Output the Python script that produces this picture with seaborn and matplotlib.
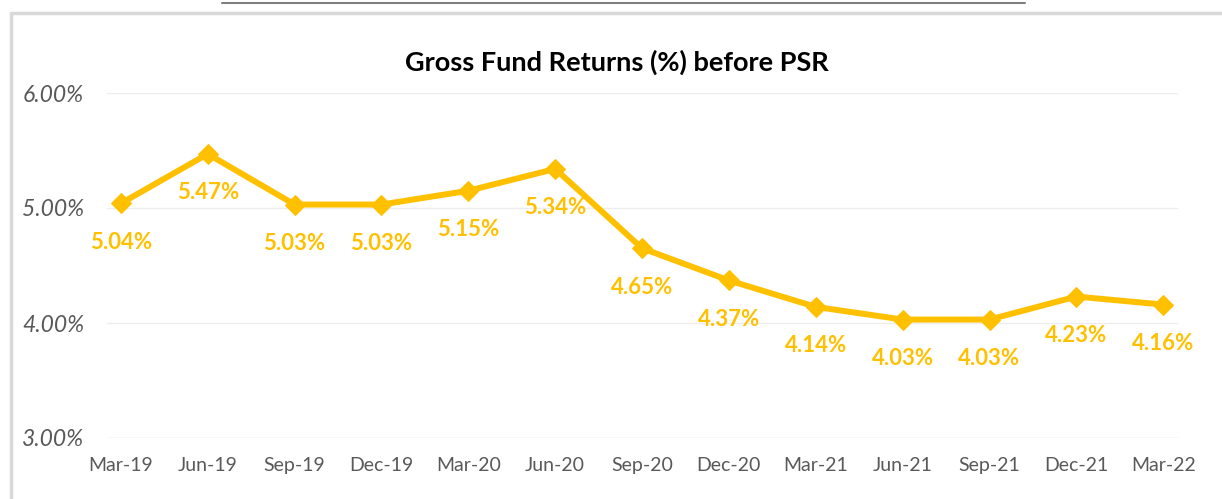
import pandas as pd
import matplotlib
matplotlib.use("Agg")
import matplotlib.pyplot as plt
from matplotlib.lines import Line2D
import seaborn as sns

sns.set_style("white")
plt.rcParams['font.family'] = ['Lato', 'DejaVu Sans']

periods = ["Mar-19", "Jun-19", "Sep-19", "Dec-19", "Mar-20", "Jun-20", "Sep-20",
           "Dec-20", "Mar-21", "Jun-21", "Sep-21", "Dec-21", "Mar-22"]
returns = [5.04, 5.47, 5.03, 5.03, 5.15, 5.34, 4.65, 4.37, 4.14, 4.03, 4.03, 4.23, 4.16]
yticks = [3.0, 4.0, 5.0, 6.0]

gold = "#FFC000"
W, H = 1222, 499

df = pd.DataFrame({"period": periods, "ret": returns})

fig = plt.figure(figsize=(W / 100, H / 100), dpi=100)
ax = fig.add_axes([107 / W, 1 - 438 / H, (1178 - 107) / W, (438 - 93) / H])

# chart frame (left and top edges) and the stray line above it
fig.lines.append(Line2D([11 / W, 11 / W], [0, 1 - 13 / H], transform=fig.transFigure,
                        color="#D9D9D9", linewidth=2.5))
fig.lines.append(Line2D([11 / W, 1], [1 - 13 / H, 1 - 13 / H], transform=fig.transFigure,
                        color="#D9D9D9", linewidth=2.5))
fig.lines.append(Line2D([222 / W, 1025 / W], [1 - 3 / H, 1 - 3 / H], transform=fig.transFigure,
                        color="#7F7F7F", linewidth=1.5))

for t in yticks:
    ax.axhline(t, color="#D9D9D9" if t == 3.0 else "#EDEDED", linewidth=1, zorder=0)

sns.lineplot(data=df, x="period", y="ret", sort=False, ax=ax, color=gold, linewidth=4.3,
             marker="D", markersize=10, markeredgecolor=gold, clip_on=False)

for i, v in enumerate(returns):
    ax.annotate("{:.2f}%".format(v), (i, v), xytext=(0, -28), textcoords="offset points",
                ha="center", va="center", color=gold, fontsize=16, fontweight="bold")

ax.set_xlim(-0.16, 12.17)
ax.set_ylim(3, 6)
ax.set_yticks(yticks)
ax.set_yticklabels(["{:.2f}%".format(t) for t in yticks], fontsize=16.5, style="italic", color="#595959")
for lbl in ax.get_yticklabels():
    lbl.set_horizontalalignment("left")
ax.tick_params(axis="y", length=0, pad=61)
ax.tick_params(axis="x", labelsize=14, colors="#595959", pad=14, length=0)
ax.set_xlabel("")
ax.set_ylabel("")
for s in ax.spines.values():
    s.set_visible(False)

fig.text(617 / W, 1 - 62 / H, "Gross Fund Returns (%) before PSR", ha="center", va="center",
         fontsize=19.5, fontweight="bold", color="black")

fig.savefig("out.png", dpi=100)
